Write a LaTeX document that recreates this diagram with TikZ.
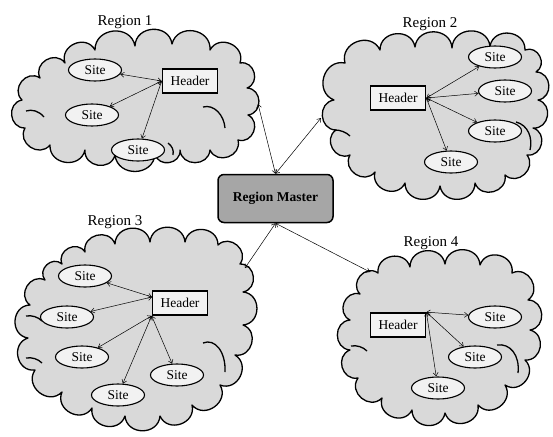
\documentclass[tikz,border=0pt]{standalone}
\usepackage{fontspec}
\setmainfont{Liberation Serif}
\usetikzlibrary{shapes.geometric,arrows.meta}
\definecolor{cloudgray}{HTML}{D9D9D9}
\definecolor{sitefill}{HTML}{F2F2F2}
\definecolor{mastergray}{HTML}{A6A6A6}
\begin{document}
\begin{tikzpicture}[x=1pt,y=-1pt,
  cloudline/.style={draw, line width=1.3pt, fill=cloudgray, line join=round},
  innerarc/.style={draw, line width=1.3pt},
  puff/.style={bend left=85, looseness=1.45},
  sitenode/.style={ellipse, draw, line width=1.1pt, fill=sitefill, minimum width=53pt, minimum height=22pt, inner sep=0pt, font=\fontsize{13.5}{15}\selectfont},
  headernode/.style={rectangle, draw, line width=1.7pt, fill=sitefill, minimum width=55pt, minimum height=24pt, inner sep=0pt, font=\fontsize{13.5}{15}\selectfont},
  regionlabel/.style={font=\fontsize{15}{17}\selectfont},
  link/.style={line width=0.5pt, {Straight Barb[length=3.5pt,width=5pt]}-{Straight Barb[length=3.5pt,width=5pt]}},
  masternode/.style={rectangle, rounded corners=6pt, draw, line width=1.5pt, fill=mastergray, minimum width=115pt, minimum height=48pt, font=\bfseries\fontsize{13.5}{15}\selectfont}
]
\useasboundingbox (0,0) rectangle (553,436);

% cloud 1
\path[cloudline] (95,50) to[puff] (135,46) to[puff] (172,44) to[puff] (210,50) to[puff] (240,63)
  to[puff] (247,88) to[puff] (248,115) to[puff] (238,140) to[puff] (210,150) to[puff] (180,150)
  to[puff] (155,154) to[puff] (115,155) to[puff] (85,150) to[puff] (50,145) to[puff] (25,128)
  to[puff] (22,100) to[puff] (40,78) to[puff] (65,63) to[puff] cycle;
\draw[innerarc] (203,107) .. controls (214,104) and (224,115) .. (225,128);
\draw[innerarc] (26,111) .. controls (32,109) and (39,111) .. (44,117);
\draw[innerarc] (168,143) .. controls (172,146) and (174,150) .. (173,155);

% cloud 2
\path[cloudline] (345,63) to[puff] (380,50) to[puff] (415,47) to[puff] (452,48) to[puff] (490,46)
  to[puff] (525,50) to[puff] (536,72) to[puff] (538,100) to[puff] (533,128) to[puff] (527,155)
  to[puff] (505,175) to[puff] (475,183) to[puff] (440,186) to[puff] (405,183) to[puff] (375,172)
  to[puff] (350,155) to[puff] (336,130) to[puff] (334,100) to[puff] cycle;
\draw[innerarc] (516,122) .. controls (528,125) and (533,138) .. (530,150);
\draw[innerarc] (335,130) .. controls (340,130) and (346,132) .. (350,136);

% cloud 3
\path[cloudline] (85,252) to[puff] (115,244) to[puff] (150,242) to[puff] (185,242) to[puff] (218,245)
  to[puff] (240,264) to[puff] (243,292) to[puff] (243,325) to[puff] (235,355) to[puff] (220,385)
  to[puff] (192,405) to[puff] (160,416) to[puff] (125,416) to[puff] (92,408) to[puff] (62,392)
  to[puff] (35,370) to[puff] (28,338) to[puff] (30,305) to[puff] (45,280) to[puff] (62,264) to[puff] cycle;
\draw[innerarc] (203,343) .. controls (215,338) and (226,352) .. (225,372);
\draw[innerarc] (26,358) .. controls (32,357) and (38,359) .. (42,363);
\draw[innerarc] (26,316) .. controls (32,315) and (38,317) .. (42,321);

% cloud 4
\path[cloudline] (378,273) to[puff] (410,267) to[puff] (445,264) to[puff] (480,265) to[puff] (512,273)
  to[puff] (528,300) to[puff] (530,330) to[puff] (525,360) to[puff] (505,385) to[puff] (478,405)
  to[puff] (445,413) to[puff] (412,410) to[puff] (382,398) to[puff] (358,378) to[puff] (350,350)
  to[puff] (350,320) to[puff] (360,294) to[puff] cycle;
\draw[innerarc] (497,345) .. controls (510,343) and (520,355) .. (518,373);
\draw[innerarc] (351,346) .. controls (357,345) and (363,347) .. (367,351);

% labels
\node[regionlabel] (l1) at (125,22) {Region 1};
\node[regionlabel] (l2) at (430,24) {Region 2};
\node[regionlabel] (l3) at (115,222) {Region 3};
\node[regionlabel] (l4) at (431,243) {Region 4};

% master
\node[masternode] (m) at (275.5,198.5) {Region Master};

% region 1
\node[headernode] (h1) at (190,81) {Header};
\node[sitenode] (s11) at (95,70) {Site};
\node[sitenode] (s12) at (92,115) {Site};
\node[sitenode] (s13) at (138,150) {Site};
\draw[link] (h1.west) -- (s11);
\draw[link] (h1.west) -- (s12);
\draw[link] (h1.west) -- (s13);

% region 2
\node[headernode] (h2) at (398,98) {Header};
\node[sitenode] (s21) at (495,57) {Site};
\node[sitenode] (s22) at (505,91) {Site};
\node[sitenode] (s23) at (495,131) {Site};
\node[sitenode] (s24) at (451,162) {Site};
\draw[link] (h2.east) -- (s21);
\draw[link] (h2.east) -- (s22);
\draw[link] (h2.east) -- (s23);
\draw[link] (h2.east) -- (s24);

% region 3
\node[headernode] (h3) at (180,303) {Header};
\node[sitenode] (s31) at (85,276) {Site};
\node[sitenode] (s32) at (67,317) {Site};
\node[sitenode] (s33) at (82,357) {Site};
\node[sitenode] (s34) at (177,375) {Site};
\node[sitenode] (s35) at (118,395) {Site};
\coordinate (h3a) at (152,297);
\draw[link] (h3a) -- (s31);
\draw[link] (h3a) -- (s32);
\draw[link] (h3.south west) -- (s33);
\draw[link] (h3.south west) -- (s34);
\draw[link] (h3.south west) -- (s35);

% region 4
\node[headernode] (h4) at (398,325) {Header};
\node[sitenode] (s41) at (495,317) {Site};
\node[sitenode] (s42) at (475,357) {Site};
\node[sitenode] (s43) at (438,388) {Site};
\draw[link] (h4.north east) -- (s41);
\draw[link] (h4.north east) -- (s42);
\draw[link] (h4.north east) -- (s43);

% master links
\coordinate (e1) at (258,104);
\coordinate (e2) at (321,118);
\coordinate (e3) at (245,268);
\coordinate (e4) at (370,272);
\draw[link] (m.north) -- (e1);
\draw[link] (m.north) -- (e2);
\draw[link] (m.south) -- (e3);
\draw[link] (m.south) -- (e4);
\end{tikzpicture}
\end{document}
